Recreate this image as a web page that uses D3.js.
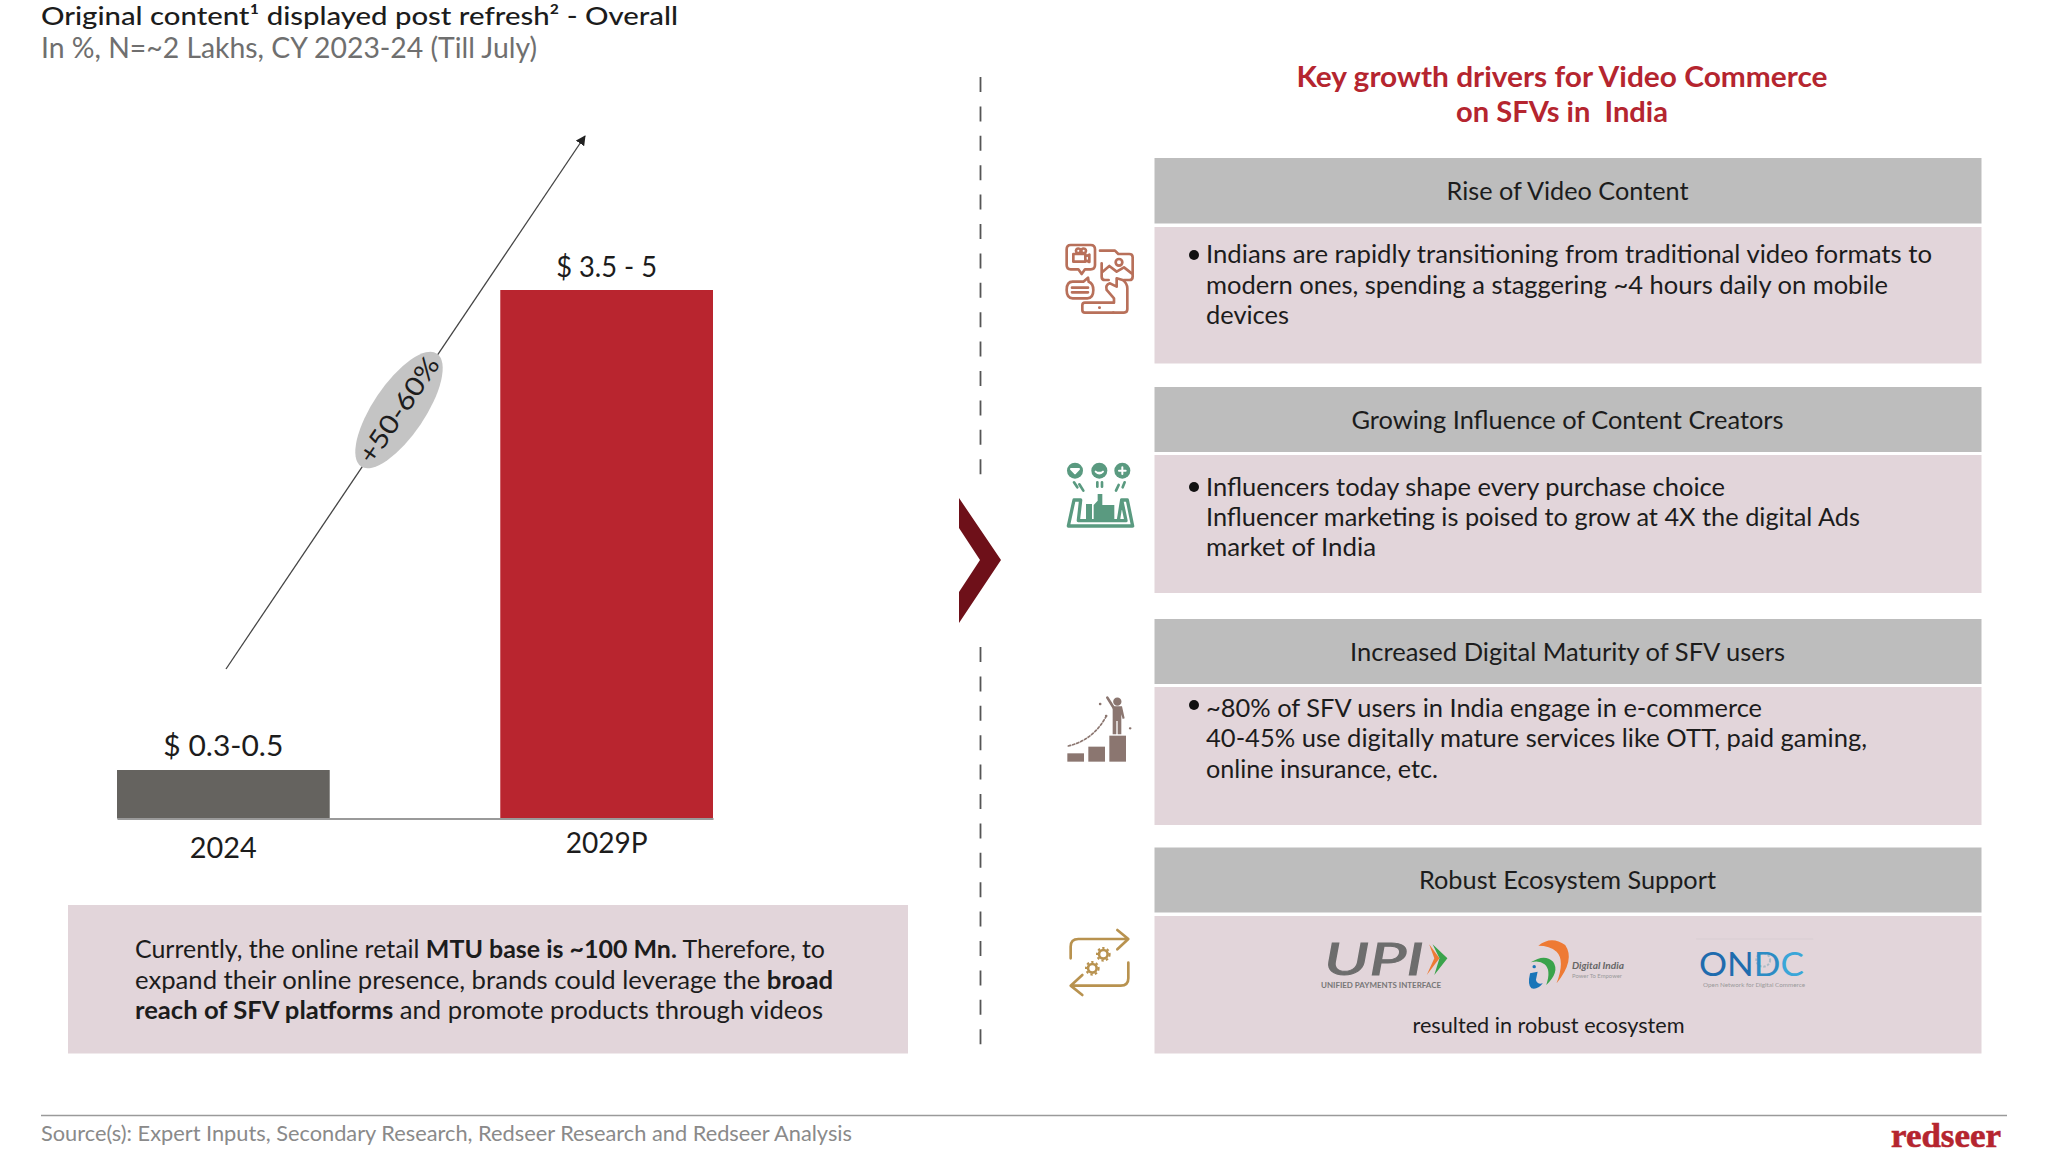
<!DOCTYPE html>
<meta charset="utf-8">
<script src="https://d3js.org/d3.v7.min.js"></script>
<style>
body { margin: 0; background: #fff; }
text { font-family: Lato, "Noto Sans", sans-serif; fill: #1c1c1c; }
</style>
<div id="my_dataviz"></div>
<script>

// chart values, USD bn (bars are drawn to the middle of each range)
var years = ["2024", "2029P"];
var marketMid = [0.39, 4.25];
var marketLabels = ["$ 0.3-0.5", "$ 3.5 - 5"];
var growthLabel = "+50-60%";

// right hand panel
var driverTitles = ["Rise of Video Content", "Growing Influence of Content Creators", "Increased Digital Maturity of SFV users", "Robust Ecosystem Support"];
var driverLines = [
  ["Indians are rapidly transitioning from traditional video formats to", "modern ones, spending a staggering ~4 hours daily on mobile", "devices"],
  ["Influencers today shape every purchase choice", "Influencer marketing is poised to grow at 4X the digital Ads", "market of India"],
  ["~80% of SFV users in India engage in e-commerce", "40-45% use digitally mature services like OTT, paid gaming,", "online insurance, etc."]
];

var svg = d3.select("#my_dataviz")
  .append("svg")
    .attr("width", 2048)
    .attr("height", 1173)
    .style("display", "block");

// text squeezed to the measured width, the original font is not installed
function label(parent, str, x, y, size, width, anchor, color, weight) {
  var t = parent.append("text")
    .attr("x", x)
    .attr("y", y)
    .attr("font-size", size)
    .attr("text-anchor", anchor || "start")
    .attr("font-weight", weight || 400)
    .text(str);
  if (width) t.attr("textLength", width).attr("lengthAdjust", "spacingAndGlyphs");
  if (color) t.style("fill", color);
  return t;
}

label(svg, "Original content¹ displayed post refresh² - Overall", 41, 25, 25, 637, "start", "#1c1c1c", 500);
label(svg, "In %, N=~2 Lakhs, CY 2023-24 (Till July)", 41, 58, 28, 496, "start", "#6f6f6f");

// bars
var x = d3.scaleBand()
  .domain(years)
  .range([117, 713])
  .paddingInner(0.445);
var y = d3.scaleLinear()
  .domain([0, d3.max(marketMid)])
  .range([818.5, 290]);
var barColor = d3.scaleOrdinal().domain(years).range(["#65635f", "#b9252f"]);

svg.selectAll("rect.bar")
  .data(years)
  .enter()
  .append("rect")
    .attr("class", "bar")
    .attr("x", function(d) { return x(d); })
    .attr("y", function(d, i) { return y(marketMid[i]); })
    .attr("width", x.bandwidth())
    .attr("height", function(d, i) { return y(0) - y(marketMid[i]); })
    .attr("fill", function(d) { return barColor(d); });

var axis = svg.append("g")
  .attr("transform", "translate(0,818.5)")
  .call(d3.axisBottom(x).tickSize(0));
axis.select(".domain").attr("stroke", "#9a9a9a").attr("stroke-width", 2);
axis.selectAll("text")
  .attr("font-family", null)
  .attr("font-size", 28)
  .attr("dy", null)
  .attr("y", function(d, i) { return i == 0 ? 39 : 34.5; })
  .attr("textLength", function(d, i) { return i == 0 ? 67 : 82; })
  .attr("lengthAdjust", "spacingAndGlyphs");

var labelBase = [756, 277], labelWidth = [120, 101];
marketLabels.forEach(function(d, i) {
  label(svg, d, x(years[i]) + x.bandwidth() / 2, labelBase[i], 28, labelWidth[i], "middle");
});

// growth arrow
svg.append("defs").append("marker")
    .attr("id", "head")
    .attr("viewBox", "0 0 10 10")
    .attr("refX", 9)
    .attr("refY", 5)
    .attr("markerWidth", 10)
    .attr("markerHeight", 10)
    .attr("markerUnits", "userSpaceOnUse")
    .attr("orient", "auto")
  .append("path")
    .attr("d", "M0,0L10,5L0,10Z")
    .attr("fill", "#222");
svg.append("line")
  .attr("x1", 226).attr("y1", 669)
  .attr("x2", 585).attr("y2", 136)
  .attr("stroke", "#444")
  .attr("stroke-width", 1.3)
  .attr("marker-end", "url(#head)");
var pill = svg.append("g").attr("transform", "translate(399,410) rotate(-56)");
pill.append("ellipse").attr("rx", 68).attr("ry", 26).attr("fill", "#c4c4c4");
label(pill, growthLabel, 0, 9, 26, 122, "middle");

// note under the chart
svg.append("rect").attr("x", 68).attr("y", 905).attr("width", 840).attr("height", 148.5).attr("fill", "#e2d5da");
var n1 = label(svg, "", 135, 958, 25, 690);
n1.append("tspan").text("Currently, the online retail ");
n1.append("tspan").attr("font-weight", 700).text("MTU base is ~100 Mn.");
n1.append("tspan").text(" Therefore, to");
var n2 = label(svg, "", 135, 988.5, 25, 698);
n2.append("tspan").text("expand their online presence, brands could leverage the ");
n2.append("tspan").attr("font-weight", 700).text("broad");
var n3 = label(svg, "", 135, 1019, 25, 688);
n3.append("tspan").attr("font-weight", 700).text("reach of SFV platforms");
n3.append("tspan").text(" and promote products through videos");

// divider
[[77, 488], [647, 1051]].forEach(function(s) {
  svg.append("line")
    .attr("x1", 980.5).attr("x2", 980.5)
    .attr("y1", s[0]).attr("y2", s[1])
    .attr("stroke", "#555")
    .attr("stroke-width", 1.8)
    .attr("stroke-dasharray", "15 14.4");
});
svg.append("path")
  .attr("d", "M959,498L1001,560L959,623L959,592L980,560L959,528Z")
  .attr("fill", "#6e1019");

// right panel
label(svg, "Key growth drivers for Video Commerce", 1562, 87, 28, 531, "middle", "#b5252f", 700);
label(svg, "on SFVs in  India", 1562, 122, 28, 212, "middle", "#b5252f", 700).attr("xml:space", "preserve");

var headTop = [158, 387, 619, 847.5], headBot = [223.5, 452, 684, 912.5];
var bodyTop = [227, 455, 687, 916], bodyBot = [363.5, 593, 825, 1053.5];
var headBase = [200, 428.5, 661, 889], headWidth = [242, 432, 435, 297];
var lineBase = [[263, 294, 324], [496, 526, 556], [717, 747, 778]];
var lineWidth = [[726, 682, 83], [519, 654, 170], [556, 661, 232]];
var bulletY = [255, 487, 705];

driverTitles.forEach(function(d, i) {
  svg.append("rect").attr("x", 1154.5).attr("y", headTop[i]).attr("width", 827).attr("height", headBot[i] - headTop[i]).attr("fill", "#bdbdbd");
  svg.append("rect").attr("x", 1154.5).attr("y", bodyTop[i]).attr("width", 827).attr("height", bodyBot[i] - bodyTop[i]).attr("fill", "#e2d5da");
  label(svg, d, 1567.5, headBase[i], 25, headWidth[i], "middle");
});
driverLines.forEach(function(lines, i) {
  svg.append("circle").attr("cx", 1194).attr("cy", bulletY[i]).attr("r", 5).attr("fill", "#111");
  lines.forEach(function(l, j) {
    label(svg, l, 1206, lineBase[i][j], 25, lineWidth[i][j]);
  });
});
label(svg, "resulted in robust ecosystem", 1548.5, 1033, 22, 272, "middle");

// icons, drawn in the units of a 3x crop
function icon(px, py, color, sw) {
  return svg.append("g")
    .attr("transform", "translate(" + px + "," + py + ") scale(0.3333)")
    .attr("fill", "none")
    .attr("stroke", color)
    .attr("stroke-width", sw)
    .attr("stroke-linecap", "round")
    .attr("stroke-linejoin", "round");
}
var ic1 = icon(1050, 230, "#b8705a", 8);
["M62 45H122Q135 45 135 58V105Q135 118 122 118H105L95 132L85 118H62Q50 118 50 105V58Q50 45 62 45Z",
 "M70 72H106V95H70ZM106 80L118 74V96L106 90M78 62A7 7 0 1 1 78 63M94 62A7 7 0 1 1 94 63",
 "M150 62H195L205 72H238Q248 72 248 82V140Q248 150 238 150H222M176 150H165Q155 150 155 140V100",
 "M158 125L178 108L200 125L222 112L245 130M207 87A10 10 0 1 1 207 107A10 10 0 1 1 207 87",
 "M68 155H100L114 143L116 155Q130 160 130 180Q130 205 112 205H68Q50 205 50 180Q50 155 68 155ZM66 173H114M66 187H114",
 "M190 218H105Q97 218 97 226V240Q97 248 105 248H190M148 233H149",
 "M190 248H222Q232 248 232 238V175Q232 160 218 150L200 145L200 170L180 160Q165 165 170 180L192 205V218"
].forEach(function(d) { ic1.append("path").attr("d", d); });

var ic2 = icon(1050, 450, "#5a9a80", 8);
[75, 148, 217].forEach(function(cx) {
  ic2.append("circle").attr("cx", cx).attr("cy", 62).attr("r", 24).attr("fill", "#5a9a80").attr("stroke", "none");
});
ic2.append("path").attr("stroke", "#fff").attr("fill", "#fff").attr("stroke-width", 6).attr("d", "M63 57H87L75 70ZM137 65Q148 76 159 65M207 62H227M217 52V72");
["M72 97L82 112M88 103L100 122M142 97V110M156 97V110M224 97L218 112M206 105L198 122"
].forEach(function(d) { ic2.append("path").attr("d", d); });
ic2.append("path").attr("stroke-width", 10).attr("d", "M72 150H92L85 212H228L215 150H232L248 228H55ZM215 150L205 212");
ic2.append("path").attr("fill", "#5a9a80").attr("stroke", "none")
  .attr("d", "M108 162H126V210H108ZM131 210V165L143 152V132H157V165H193V210Z");

var ic3 = icon(1050, 685, "#8b7670", 5);
ic3.selectAll("rect").data([[52, 205, 50, 25], [115, 185, 50, 45], [178, 152, 50, 78]]).enter().append("rect")
  .attr("x", function(d) { return d[0]; })
  .attr("y", function(d) { return d[1]; })
  .attr("width", function(d) { return d[2]; })
  .attr("height", function(d) { return d[3]; })
  .attr("fill", "#8b7670")
  .attr("stroke", "none");
ic3.append("circle").attr("cx", 202).attr("cy", 50).attr("r", 10).attr("fill", "#8b7670");
ic3.append("path").attr("fill", "#8b7670").attr("stroke", "none").attr("d", "M188 64H216L224 100L218 102L214 88V148H203V108H199V148H188Z");
ic3.append("path").attr("stroke-width", 8).attr("d", "M172 38L192 70");
ic3.append("path").attr("stroke-dasharray", "7 6").attr("d", "M55 183Q130 165 168 95");
ic3.append("path").attr("stroke-width", 7).attr("d", "M150 57H151M240 130H241M168 93H169");

var ic4 = icon(1050, 915, "#b8924f", 8);
["M62 130V95Q62 72 85 72H232M202 45L235 72L202 103", "M235 143V190Q235 212 212 212H65M97 180L62 212L97 240"]
  .forEach(function(d) { ic4.append("path").attr("d", d); });
[[160, 118], [127, 160]].forEach(function(c) {
  ic4.append("circle").attr("cx", c[0]).attr("cy", c[1]).attr("r", 13).attr("stroke-width", 8);
  ic4.append("circle").attr("cx", c[0]).attr("cy", c[1]).attr("r", 19).attr("stroke-width", 6).attr("stroke-linecap", "butt").attr("stroke-dasharray", "7 7");
});

// partner logos
label(svg, "UPI", 1324, 975, 44, 100, "start", "#6d6d6d", 400).attr("font-style", "italic").attr("stroke", "#6d6d6d").attr("stroke-width", 1);
label(svg, "UNIFIED PAYMENTS INTERFACE", 1321, 988, 7, 120, "start", "#777", 700);
var logos = svg.append("g").attr("transform", "translate(1300,925) scale(0.3444,0.3333)");
logos.append("path").attr("fill", "#3aa34b").attr("d", "M385 58L428 100L390 150L405 100Z");
logos.append("path").attr("fill", "#ee7a34").attr("d", "M375 58L405 100L368 150L390 100Z");
logos.append("path").attr("fill", "#ee7a34").attr("d", "M692 62Q730 30 770 60Q800 105 745 175Q770 105 745 80Q725 62 692 62Z");
logos.append("path").attr("fill", "#3aa34b").attr("d", "M670 112Q710 85 735 110Q755 140 715 180Q730 135 710 118Q695 105 670 112Z");
logos.append("path").attr("fill", "#1a75b8").attr("d", "M668 145L690 140L685 165Q690 180 705 175Q690 195 672 190Q660 180 668 145ZM675 125A5 5 0 1 0 685 125A5 5 0 1 0 675 125Z");
logos.append("path").attr("stroke", "#d3c9cd").attr("stroke-width", 2).attr("d", "M1150 42H1490");
logos.append("circle").attr("cx", 1345).attr("cy", 105).attr("r", 20).attr("fill", "none").attr("stroke", "#a9bcc6").attr("stroke-width", 6).attr("stroke-dasharray", "7 5");
label(svg, "Digital India", 1572, 969, 10, 52, "start", "#666", 700).attr("font-style", "italic");
label(svg, "Power To Empower", 1572, 978, 6, 50, "start", "#9a9a9a");
var ondc = label(svg, "", 1699, 976, 32, 105, "start", "#1f6cae", 400);
ondc.append("tspan").style("fill", "#1f6cae").text("ON");
ondc.append("tspan").style("fill", "#2c8cc4").text("D");
ondc.append("tspan").style("fill", "#3aa6d8").text("C");
label(svg, "Open Network for Digital Commerce", 1703, 987, 6.5, 102, "start", "#9a9a9a");

// footer
svg.append("line").attr("x1", 41).attr("x2", 2007).attr("y1", 1115.5).attr("y2", 1115.5).attr("stroke", "#9a9a9a").attr("stroke-width", 1.6);
label(svg, "Source(s): Expert Inputs, Secondary Research, Redseer Research and Redseer Analysis", 41, 1141, 22, 811, "start", "#8a8a8a");
label(svg, "redseer", 1891, 1147, 34, 110, "start", "#b5252f", 700).style("font-family", "'Liberation Serif', serif").attr("stroke", "#b5252f").attr("stroke-width", 0.6);

</script>
